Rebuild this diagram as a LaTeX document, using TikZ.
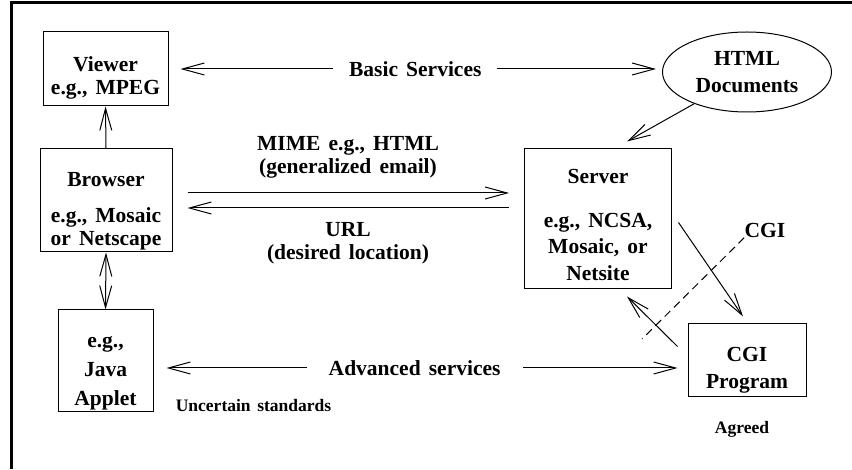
\documentclass[tikz,border=0pt]{standalone}
\usepackage{fontspec}
\setmainfont{Liberation Serif}
\usetikzlibrary{calc,arrows.meta,shapes.geometric}
\newcommand\widesp{\spaceskip=.38em\relax}

\begin{document}
\begin{tikzpicture}[x=1pt,y=1pt,
	font=\fontsize{21.5}{23}\selectfont\bfseries\widesp,
	line width=1pt,
	>={Straight Barb[length=22pt,width=12pt]},
	box/.style={draw,inner sep=0pt,align=center},
	lbl/.style={fill=white,inner sep=0pt,align=center},
	small/.style={font=\fontsize{17.5}{20}\selectfont\bfseries\widesp}]
	
	\useasboundingbox (0,0) rectangle (852,469);
	
	\draw[line width=3pt] (11,0) -- (11,466) -- (852,466);
	
	\node[box,minimum width=125,minimum height=74] (v) at (105.5,400) {\rule{0pt}{33.6pt}Viewer\\e.g., MPEG};
	
	\node[box,minimum width=132,minimum height=103] (b) at (106,268.5) {\rule{0pt}{34.6pt}Browser\\[13pt]e.g., Mosaic\\or Netscape};
	
	\node[box,minimum width=95,minimum height=102] (j) at (105.5,108) {\rule{0pt}{34.6pt}e.g.,\\[6pt]Java\\[6pt]Applet};
	
	\node[box,minimum width=147,minimum height=140] (s) at (598,250) {\rule{0pt}{26pt}Server\\[21pt]e.g., NCSA,\\[3pt]Mosaic, or\\[4pt]Netsite};
	
	\node[box,minimum width=118,minimum height=73] (p) at (747,108.5) {\rule{0pt}{34.3pt}CGI\\[4pt]Program};
	
	\node[box,ellipse,minimum width=169,minimum height=80] (h) at (747,397) {HTML\\[4pt]Documents};
	
	\node[lbl] (m) at (348,312) {MIME e.g., HTML\\(generalized email)};
	
	\node[lbl] (u) at (348,226) {URL\\(desired location)};
	
	\node[small,anchor=base west] (un) at (172,57) {Uncertain standards};
	
	\node[small,anchor=base] (ag) at (742,36) {Agreed};
	
	\node[inner sep=0pt] (cg) at (765,239) {CGI};
	
	\coordinate (d) at (642,130);
	
	\draw[->] (b.north) -- (v.south);
	\draw[<->] (b.south) -- (j.north);
	\draw[<->,shorten <=12pt,shorten >=6pt] (v.east) -- (v.east -| h.west) node[lbl,midway,inner xsep=16pt] (bs) {Basic Services};
	\draw[->,shorten <=15pt,shorten >=15pt] ([yshift=7.5pt]b.east) -- ([yshift=7.5pt]b.east -| s.west);
	\draw[<-,shorten <=15pt,shorten >=15pt] ([yshift=-7.5pt]b.east) -- ([yshift=-7.5pt]b.east -| s.west);
	\draw[<->,shorten <=13pt,shorten >=10pt] ([yshift=-7pt]j.east) -- ([yshift=-7pt]j.east -| p.west) node[lbl,pos=0.489,inner xsep=22pt] (as) {Advanced services};
	\draw[->] (h.211) -- ($(s.north)+(29,7)$);
	\draw[->] ($(s.east)+(6.5,-3.5)$) -- ($(p.north)+(-4,7)$);
	\draw[->] ($(p.west)+(-10,14)$) -- ($(s.south)+(29,-7)$);
	\draw[dash pattern=on 8pt off 5pt] (cg.south west) -- (d);
	
\end{tikzpicture}
\end{document}
